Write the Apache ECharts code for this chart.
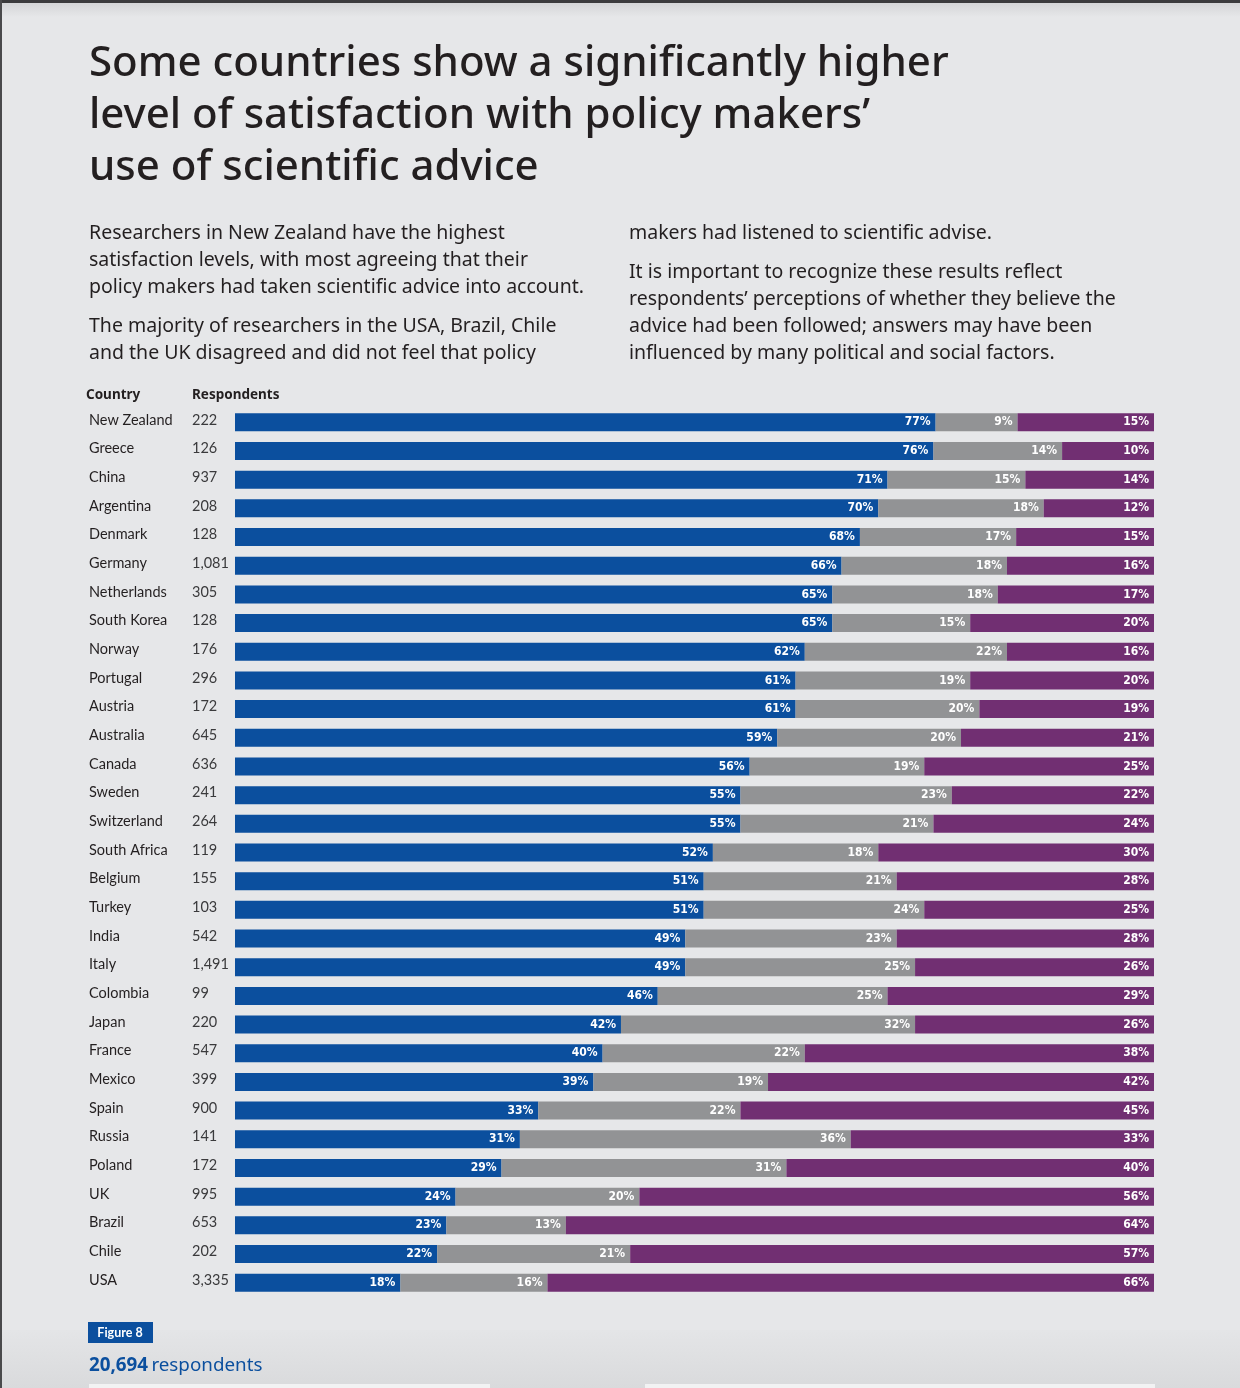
<!DOCTYPE html>
<html>
<head>
<meta charset="utf-8">
<script src="https://cdn.jsdelivr.net/npm/echarts@6/dist/echarts.min.js"></script>
<style>
  html, body { margin: 0; padding: 0; background: #e6e7e9; }
  #chart { width: 1240px; height: 1388px; }
</style>
</head>
<body>
<div id="chart"></div>
<script>
  // data
  var countries = ['New Zealand', 'Greece', 'China', 'Argentina', 'Denmark', 'Germany', 'Netherlands',
    'South Korea', 'Norway', 'Portugal', 'Austria', 'Australia', 'Canada', 'Sweden', 'Switzerland',
    'South Africa', 'Belgium', 'Turkey', 'India', 'Italy', 'Colombia', 'Japan', 'France', 'Mexico',
    'Spain', 'Russia', 'Poland', 'UK', 'Brazil', 'Chile', 'USA']
  var respondents = ['222', '126', '937', '208', '128', '1,081', '305', '128', '176', '296', '172', '645',
    '636', '241', '264', '119', '155', '103', '542', '1,491', '99', '220', '547', '399', '900', '141',
    '172', '995', '653', '202', '3,335']
  var agree = [77, 76, 71, 70, 68, 66, 65, 65, 62, 61, 61, 59, 56, 55, 55, 52, 51, 51, 49, 49, 46, 42,
    40, 39, 33, 31, 29, 24, 23, 22, 18]
  var neutral = [9, 14, 15, 18, 17, 18, 18, 15, 22, 19, 20, 20, 19, 23, 21, 18, 21, 24, 23, 25, 25, 32,
    22, 19, 22, 36, 31, 20, 13, 21, 16]
  var disagree = [15, 10, 14, 12, 15, 16, 17, 20, 16, 20, 19, 21, 25, 22, 24, 30, 28, 25, 28, 26, 29, 26,
    38, 42, 45, 33, 40, 56, 64, 57, 66]
  var totalRespondents = '20,694'

  var FONT = 'Lato, "Noto Sans", sans-serif'
  var WIDE = '"Noto Sans", Lato, sans-serif'
  var TXT = '#231f20'

  // bars fill the full width, so scale each row to its own total
  function share (arr) {
    return arr.map(function (v, i) {
      var t = agree[i] + neutral[i] + disagree[i]
      return { value: v / t * 100, raw: v }
    })
  }

  function barSeries (name, arr, color) {
    return {
      name: name,
      type: 'bar',
      stack: 'all',
      barWidth: 18,
      data: share(arr),
      itemStyle: { color: color },
      label: {
        show: true,
        position: 'insideRight',
        distance: 5,
        color: '#ffffff',
        fontFamily: '"DejaVu Sans Condensed", "DejaVu Sans", sans-serif',
        fontWeight: 'bold',
        fontSize: 12,
        formatter: function (p) { return p.data.raw + '%' }
      }
    }
  }

  var paraLeft = [
    'Researchers in New Zealand have the highest',
    'satisfaction levels, with most agreeing that their',
    'policy makers had taken scientific advice into account.'
  ]
  var paraLeft2 = [
    'The majority of researchers in the USA, Brazil, Chile',
    'and the UK disagreed and did not feel that policy'
  ]
  var paraRight2 = [
    'It is important to recognize these results reflect',
    'respondents\u2019 perceptions of whether they believe the',
    'advice had been followed; answers may have been',
    'influenced by many political and social factors.'
  ]

  function textEl (x, y, str, size, extra) {
    var st = { x: x, y: y, text: str, fontFamily: WIDE, fontSize: size, fill: TXT, textVerticalAlign: 'middle' }
    for (var k in extra) st[k] = extra[k]
    return { type: 'text', style: st }
  }

  var graphics = [
    // page frame and bottom band
    { type: 'rect', shape: { x: 0, y: 0, width: 1240, height: 3 }, style: { fill: '#3b3b3d' } },
    { type: 'rect', shape: { x: 0, y: 0, width: 2, height: 1388 }, style: { fill: '#4a4a4c' } },
    { type: 'rect', shape: { x: 2, y: 3, width: 1238, height: 14 },
      style: { fill: new echarts.graphic.LinearGradient(0, 0, 0, 1, [{ offset: 0, color: '#d4d5d7' }, { offset: 1, color: '#e6e7e9' }]) } },
    { type: 'rect', shape: { x: 2, y: 1330, width: 1238, height: 58 },
      style: { fill: new echarts.graphic.LinearGradient(0, 0, 0, 1, [{ offset: 0, color: '#e4e5e7' }, { offset: 1, color: '#d9dadc' }]) } },
    { type: 'rect', shape: { x: 89, y: 1384, width: 401, height: 4 }, style: { fill: '#f2f2f3' } },
    { type: 'rect', shape: { x: 645, y: 1384, width: 510, height: 4 }, style: { fill: '#f2f2f3' } },
    // title
    textEl(89, 64, 'Some countries show a significantly higher', 42, { fontWeight: 500 }),
    textEl(89, 116, 'level of satisfaction with policy makers\u2019', 42, { fontWeight: 500 }),
    textEl(89, 168, 'use of scientific advice', 42, { fontWeight: 500 }),
    // column headers
    textEl(86, 395, 'Country', 13.5, { fontWeight: 'bold' }),
    textEl(192, 395, 'Respondents', 13.5, { fontWeight: 'bold' }),
    // figure badge and total
    { type: 'rect', shape: { x: 88, y: 1322, width: 65, height: 21 }, style: { fill: '#0b4f9e' } },
    textEl(120, 1333, 'Figure 8', 12.5, { fill: '#ffffff', fontFamily: FONT, fontWeight: 'bold', textAlign: 'center' }),
    {
      type: 'text',
      style: {
        x: 89, y: 1366, textVerticalAlign: 'middle',
        text: '{b|' + totalRespondents + '} {n|respondents}',
        rich: {
          b: { fontFamily: WIDE, fontSize: 18.8, fontWeight: 'bold', fill: '#0b4f9e' },
          n: { fontFamily: WIDE, fontSize: 18.8, fill: '#0b4f9e' }
        }
      }
    }
  ]
  paraLeft.forEach(function (s, i) { graphics.push(textEl(89, 233 + i * 27, s, 19.5)) })
  paraLeft2.forEach(function (s, i) { graphics.push(textEl(89, 326 + i * 27, s, 19.5)) })
  graphics.push(textEl(629, 233, 'makers had listened to scientific advise.', 19.5))
  paraRight2.forEach(function (s, i) { graphics.push(textEl(629, 272 + i * 27, s, 19.5)) })

  var chart = echarts.init(document.getElementById('chart'))
  var option = {
    backgroundColor: '#e6e7e9',
    animation: false,
    graphic: graphics,
    grid: { left: 235, right: 86, top: 408, bottom: 91 },
    xAxis: { type: 'value', min: 0, max: 100, show: false },
    yAxis: {
      type: 'category',
      inverse: true,
      data: countries,
      axisLine: { show: false },
      axisTick: { show: false },
      axisLabel: {
        align: 'left',
        margin: 146,
        formatter: function (v, i) {
          return '{c|' + v + '}{r|' + respondents[i] + '}'
        },
        rich: {
          c: { width: 103, fontFamily: FONT, fontSize: 14.5, color: TXT, padding: [0, 0, 5, 0] },
          r: { fontFamily: FONT, fontSize: 14.5, color: '#3a3a3c', padding: [0, 0, 5, 0] }
        }
      }
    },
    series: [
      barSeries('Agree', agree, '#0b4f9e'),
      barSeries('Neutral', neutral, '#929395'),
      barSeries('Disagree', disagree, '#712f72')
    ]
  }
  chart.setOption(option)
  window.addEventListener('resize', function () { chart.resize() })
</script>
</body>
</html>
